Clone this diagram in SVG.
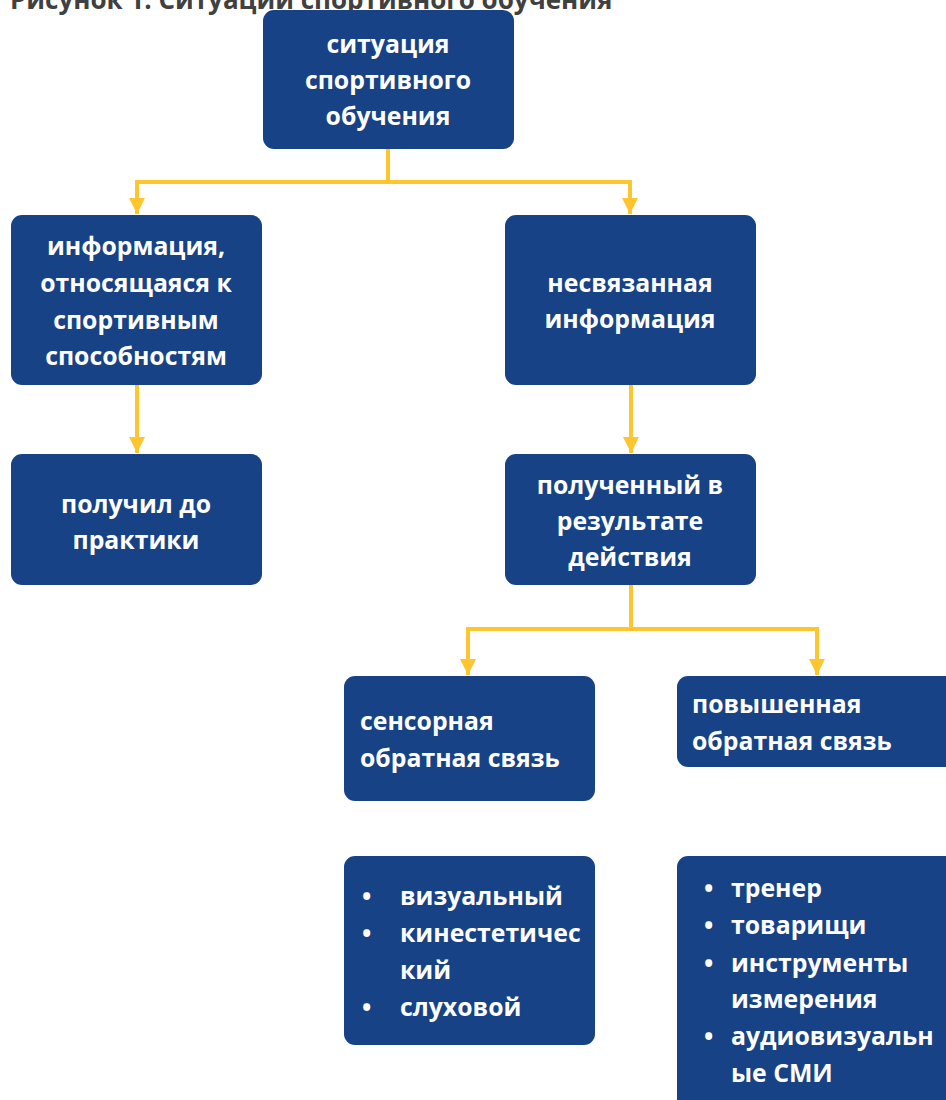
<svg xmlns="http://www.w3.org/2000/svg" width="946" height="1100" viewBox="0 0 946 1100">
<style>
.node{fill:#174286;}
.t{font-family:"Open Sans","Liberation Sans",sans-serif;font-weight:700;font-size:24.8px;fill:#ffffff;}
.c{text-anchor:middle;}
.title{font-family:"Open Sans","Liberation Sans",sans-serif;font-weight:700;font-size:26px;fill:#404040;}
.conn{fill:none;stroke:#FFC52F;stroke-width:4;}
</style>
<defs>
<marker id="ah" viewBox="0 0 10 10" refX="10" refY="5" markerWidth="4.5" markerHeight="4" orient="auto" markerUnits="strokeWidth">
<path d="M0,0 L10,5 L0,10 Z" fill="#FFC52F"/>
</marker>
</defs>
<rect width="946" height="1100" fill="#ffffff"/>
<text class="title" x="10" y="9">Рисунок 1. Ситуации спортивного обучения</text>
<g id="connectors">
<path class="conn" d="M388,149 V182"/>
<path class="conn" d="M388,182 H137 V214" marker-end="url(#ah)"/>
<path class="conn" d="M388,182 H630 V214" marker-end="url(#ah)"/>
<path class="conn" d="M137,385 V453" marker-end="url(#ah)"/>
<path class="conn" d="M631,385 V453" marker-end="url(#ah)"/>
<path class="conn" d="M631,585 V629"/>
<path class="conn" d="M631,629 H468 V675" marker-end="url(#ah)"/>
<path class="conn" d="M631,629 H817 V675" marker-end="url(#ah)"/>
</g>
<g id="n-top">
<rect class="node" x="263" y="10" width="251" height="139" rx="11"/>
<text class="t c" x="388" y="53">ситуация</text>
<text class="t c" x="388" y="89">спортивного</text>
<text class="t c" x="388" y="125">обучения</text>
</g>
<g id="n-related">
<rect class="node" x="11" y="215" width="251" height="170" rx="11"/>
<text class="t c" x="136" y="255">информация,</text>
<text class="t c" x="136" y="292">относящаяся к</text>
<text class="t c" x="136" y="329">спортивным</text>
<text class="t c" x="136" y="365">способностям</text>
</g>
<g id="n-unrelated">
<rect class="node" x="505" y="215" width="251" height="170" rx="11"/>
<text class="t c" x="630" y="292">несвязанная</text>
<text class="t c" x="630" y="328">информация</text>
</g>
<g id="n-before">
<rect class="node" x="11" y="454" width="251" height="131" rx="11"/>
<text class="t c" x="136" y="513">получил до</text>
<text class="t c" x="136" y="549">практики</text>
</g>
<g id="n-after">
<rect class="node" x="505" y="454" width="251" height="131" rx="11"/>
<text class="t c" x="630" y="494">полученный в</text>
<text class="t c" x="630" y="530">результате</text>
<text class="t c" x="630" y="566">действия</text>
</g>
<g id="n-sensory">
<rect class="node" x="344" y="676" width="251" height="125" rx="11"/>
<text class="t" x="360" y="730">сенсорная</text>
<text class="t" x="360" y="767">обратная связь</text>
</g>
<g id="n-enhanced">
<rect class="node" x="677" y="676" width="280" height="91" rx="11"/>
<text class="t" x="692" y="713">повышенная</text>
<text class="t" x="692" y="750">обратная связь</text>
</g>
<g id="n-sensory-list">
<rect class="node" x="344" y="856" width="251" height="189" rx="11"/>
<text class="t" x="362" y="905">•</text><text class="t" x="400" y="905">визуальный</text>
<text class="t" x="362" y="942">•</text><text class="t" x="400" y="942">кинестетичес</text>
<text class="t" x="400" y="979">кий</text>
<text class="t" x="362" y="1016">•</text><text class="t" x="400" y="1016">слуховой</text>
</g>
<g id="n-enhanced-list">
<rect class="node" x="677" y="856" width="280" height="260" rx="11"/>
<text class="t" x="704" y="897">•</text><text class="t" x="731" y="897">тренер</text>
<text class="t" x="704" y="934">•</text><text class="t" x="731" y="934">товарищи</text>
<text class="t" x="704" y="972">•</text><text class="t" x="731" y="972">инструменты</text>
<text class="t" x="731" y="1008">измерения</text>
<text class="t" x="704" y="1045">•</text><text class="t" x="731" y="1045">аудиовизуальн</text>
<text class="t" x="731" y="1082">ые СМИ</text>
</g>
</svg>
